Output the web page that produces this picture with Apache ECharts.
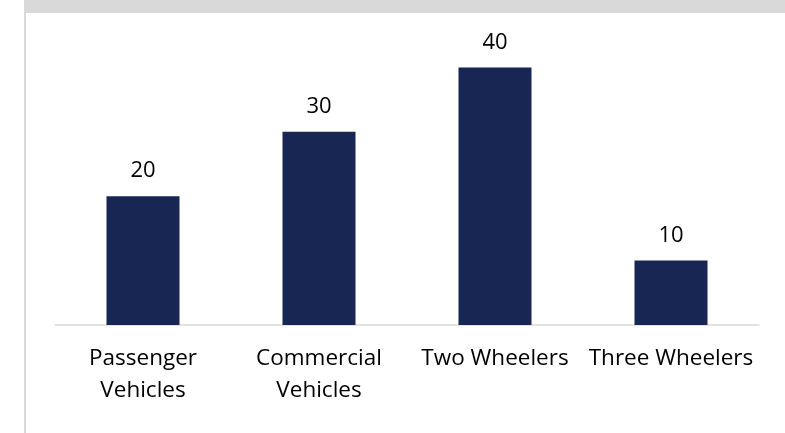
<!DOCTYPE html>
<html>
<head>
<meta charset="utf-8">
<script src="https://cdn.jsdelivr.net/npm/echarts@6/dist/echarts.min.js"></script>
<style>
  html, body { margin: 0; padding: 0; background: #fff; }
  #chart { width: 785px; height: 433px; }
</style>
</head>
<body>
<div id="chart"></div>
<script>
// 数据
const categories = ['Passenger\nVehicles', 'Commercial\nVehicles', 'Two Wheelers', 'Three Wheelers']
const values = [20, 30, 40, 10]

const chart = echarts.init(document.getElementById('chart'))

chart.setOption({
  animation: false,
  // 顶部灰条和左侧竖线（页面边框）
  graphic: [
    { type: 'rect', shape: { x: 24, y: 0, width: 761, height: 13 }, style: { fill: '#d9d9d9' } },
    { type: 'rect', shape: { x: 24, y: 0, width: 2, height: 433 }, style: { fill: '#d9d9d9' } },
  ],
  grid: { left: 55, right: 26, top: 3, bottom: 108 },
  xAxis: {
    type: 'category',
    data: categories,
    axisLine: { lineStyle: { color: '#d9d9d9', width: 1.5 } },
    axisTick: { show: false },
    axisLabel: {
      color: '#000',
      fontFamily: 'Open Sans',
      fontSize: 22.5,
      lineHeight: 32,
      margin: 18,
      interval: 0,
    },
  },
  yAxis: {
    type: 'value',
    min: 0,
    max: 50,
    show: false,
  },
  series: [{
    type: 'bar',
    data: values,
    barWidth: 73,
    itemStyle: { color: '#182653' },
    label: {
      show: true,
      position: 'top',
      distance: 14,
      color: '#000',
      fontFamily: 'Open Sans',
      fontSize: 22,
      lineHeight: 22,
    },
  }],
})
</script>
</body>
</html>
